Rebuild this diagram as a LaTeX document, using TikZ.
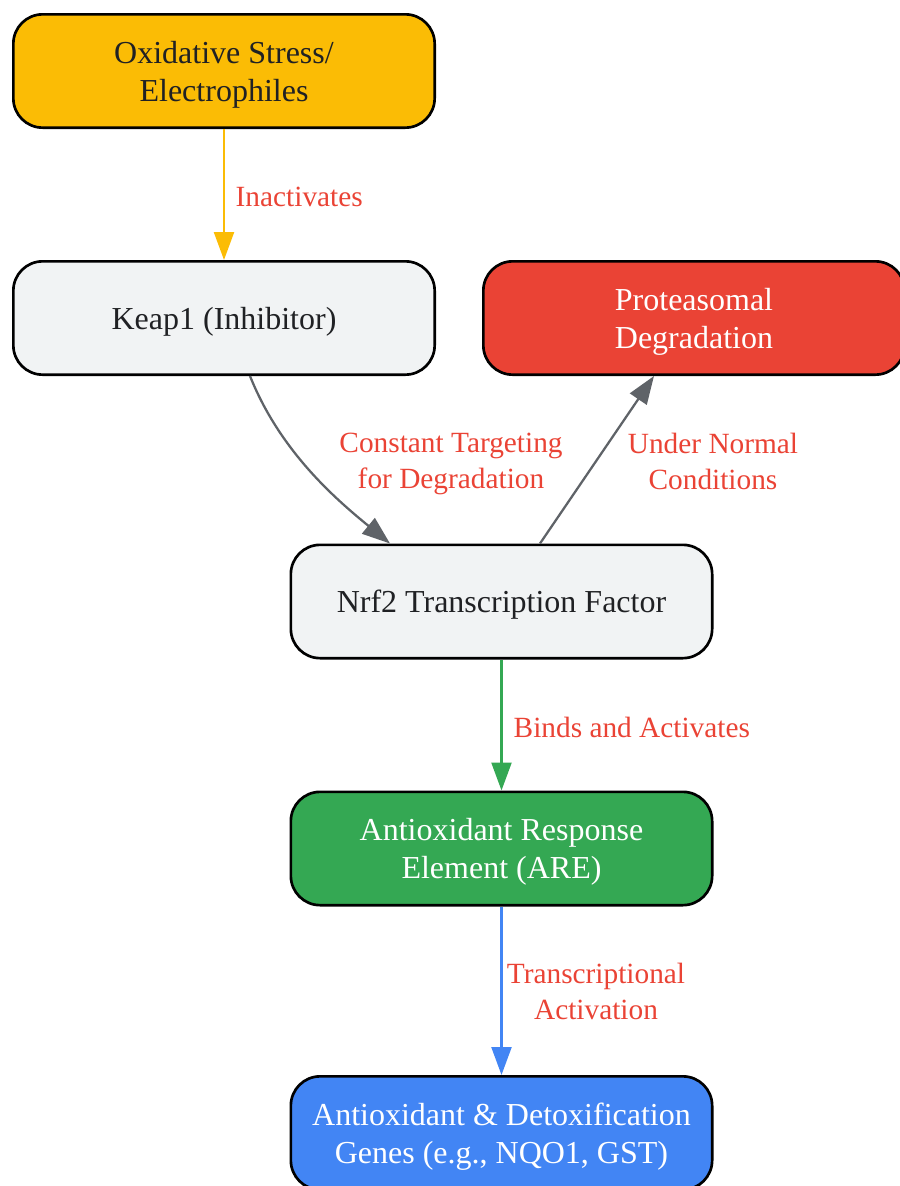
\documentclass[tikz,border=0pt]{standalone}
\usepackage{fontspec}
\setmainfont{Liberation Serif}
\usetikzlibrary{arrows.meta,calc}
\definecolor{stressyellow}{HTML}{FBBC05}
\definecolor{plaingray}{HTML}{F1F3F4}
\definecolor{degradred}{HTML}{EA4335}
\definecolor{aregreen}{HTML}{34A853}
\definecolor{geneblue}{HTML}{4285F4}
\definecolor{edgegray}{HTML}{5F6368}
\definecolor{darktext}{HTML}{202124}

\begin{document}
\begin{tikzpicture}[
  x=0.75pt, y=0.75pt,
  every node/.style = {align=center, text depth=0pt},
  stage/.style = {shape=rectangle, rounded corners=22pt, draw, line width=2pt,
                  minimum width=316pt, minimum height=85pt,
                  font=\fontsize{24}{28.5}\selectfont, text=darktext},
  link/.style = {line width=1.7pt, -{Triangle[length=21pt,width=15pt]}},
  tag/.style = {text=degradred, font=\fontsize{22}{27}\selectfont}
]
  \useasboundingbox (0,0) rectangle (900,-1186);

  % stages
  \node[stage, fill=stressyellow] (stress) at (224,-71) {Oxidative Stress/\\Electrophiles};
  \node[stage, fill=plaingray] (keap) at (224,-318) {Keap1 (Inhibitor)};
  \node[stage, fill=degradred, text=white] (proteasome) at (694,-318) {Proteasomal\\Degradation};
  \node[stage, fill=plaingray] (nrf) at (501.5,-601.5) {Nrf2 Transcription Factor};
  \node[stage, fill=aregreen, text=white] (are) at (501.5,-848.5) {Antioxidant Response\\Element (ARE)};
  \node[stage, fill=geneblue, text=white] (genes) at (501.5,-1133) {Antioxidant \& Detoxification\\Genes (e.g., NQO1, GST)};

  % links
  \draw[link, stressyellow] (stress) -- (keap);
  \draw[link, edgegray] ($(keap.south)+(26,0)$) .. controls +(30,-75) and +(-55,45) .. ($(nrf.north)+(-111.5,0)$);
  \draw[link, edgegray] ($(nrf.north)+(38.5,0)$) -- ($(proteasome.south)+(-40,0)$);
  \draw[link, aregreen] (nrf) -- (are);
  \draw[link, geneblue] (are) -- (genes);

  % labels
  \node[tag, anchor=west] (inact) at (231,-197) {Inactivates};
  \node[tag] (target) at (451,-461) {Constant Targeting\\for Degradation};
  \node[tag] (normal) at (713,-461) {Under Normal\\Conditions};
  \node[tag, anchor=west] (binds) at (509,-727) {Binds and Activates};
  \node[tag] (transcr) at (596,-991) {Transcriptional\\Activation};
\end{tikzpicture}
\end{document}
